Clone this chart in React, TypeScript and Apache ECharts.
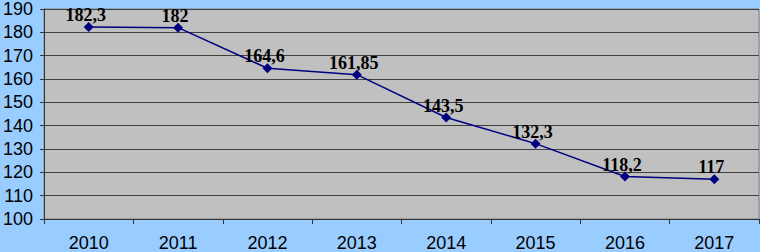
import React, { useEffect, useRef } from "react";
import * as echarts from "echarts";

const categories = ["2010", "2011", "2012", "2013", "2014", "2015", "2016", "2017"];
const values = [182.3, 182, 164.6, 161.85, 143.5, 132.3, 118.2, 117];
const yMin = 100;
const yMax = 190;
const yStep = 10;

export default function App() {
  const ref = useRef<HTMLDivElement>(null);
  useEffect(() => {
    if (!ref.current) return;
    const chart = echarts.init(ref.current, undefined, { renderer: "svg" });
    chart.setOption({
      animation: false,
      backgroundColor: "#99ccff",
      grid: {
        left: 44,
        right: 1,
        top: 7,
        bottom: 32,
        show: true,
        backgroundColor: "#c0c0c0",
        borderColor: "#808080",
        borderWidth: 1,
      },
      xAxis: {
        type: "category",
        data: categories,
        boundaryGap: true,
        axisLine: { lineStyle: { color: "#333", width: 1 } },
        axisTick: { show: true, length: 5, lineStyle: { color: "#333" } },
        axisLabel: {
          color: "#000",
          fontFamily: "Liberation Sans, Arial, sans-serif",
          fontSize: 18,
          margin: 15,
        },
        splitLine: { show: false },
      },
      yAxis: {
        type: "value",
        min: yMin,
        max: yMax,
        interval: yStep,
        axisLine: { show: true, lineStyle: { color: "#333", width: 1 } },
        axisTick: { show: true, length: 4, lineStyle: { color: "#333" } },
        axisLabel: {
          color: "#000",
          fontFamily: "Liberation Sans, Arial, sans-serif",
          fontSize: 18,
          margin: 11,
        },
        splitLine: { show: true, lineStyle: { color: "#404040", width: 1 } },
      },
      series: [
        {
          type: "line",
          data: values,
          symbol: "diamond",
          symbolSize: 10,
          lineStyle: { color: "#000080", width: 1.5 },
          itemStyle: { color: "#000080" },
          label: {
            show: true,
            position: "top",
            distance: -2,
            offset: [-3, 0],
            color: "#000",
            fontFamily: "Liberation Serif, Times New Roman, serif",
            fontWeight: "bold",
            fontSize: 18,
            formatter: (p: any) => String(p.value).replace(".", ","),
          },
        },
      ],
    });
    return () => chart.dispose();
  }, []);
  return (
    <div
      ref={ref}
      style={{ position: "fixed", left: 0, top: 0, width: 760, height: 252 }}
    />
  );
}
